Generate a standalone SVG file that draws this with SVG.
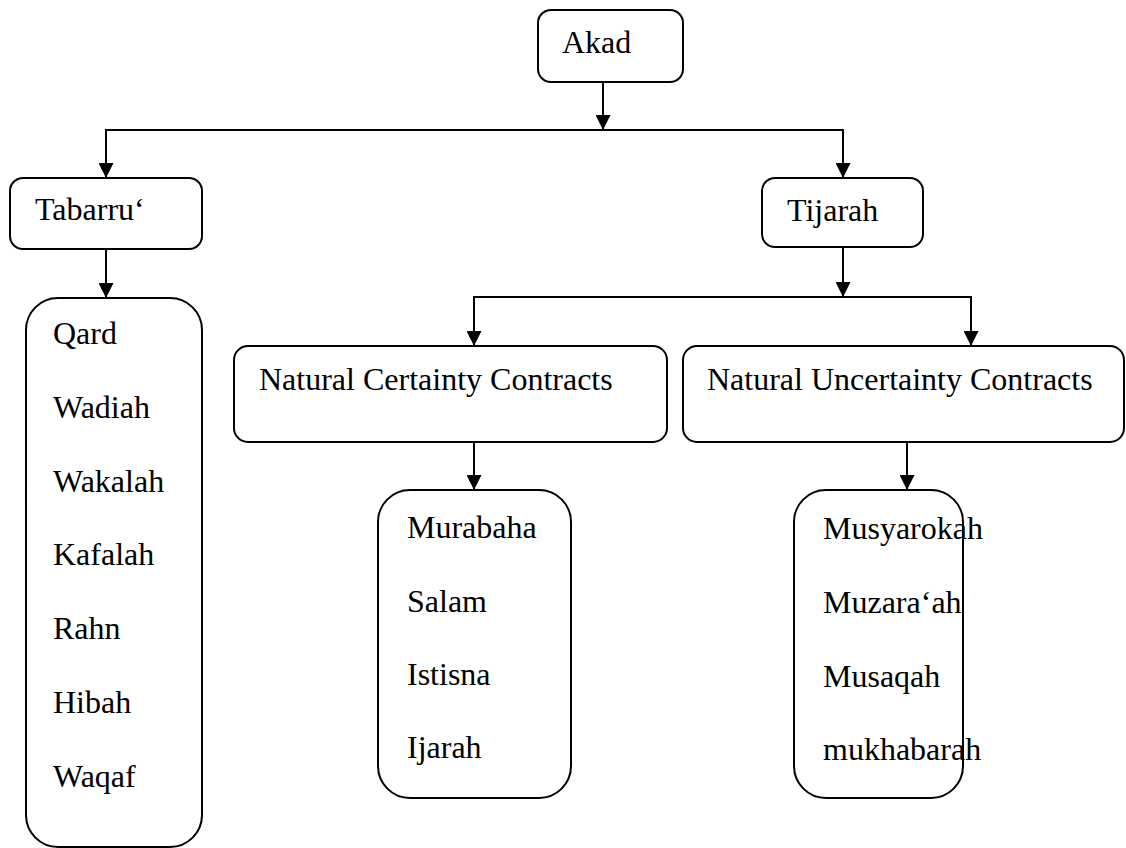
<svg xmlns="http://www.w3.org/2000/svg" width="1126" height="848" viewBox="0 0 1126 848">
<style>
.box{fill:#fff;stroke:#000;stroke-width:2}
.t{font-family:"Liberation Serif","Times New Roman",serif;font-size:32px;fill:#000}
.c{fill:none;stroke:#000;stroke-width:2}
</style>
<defs>
<marker id="ah" markerUnits="userSpaceOnUse" markerWidth="15" markerHeight="15" viewBox="0 0 15 15" refX="15" refY="7.5" orient="auto">
<path d="M0,0 L15,7.5 L0,15 z" fill="#000"/>
</marker>
</defs>
<rect width="1126" height="848" fill="#fff"/>
<g id="connectors">
<line class="c" x1="603" y1="82" x2="603" y2="130" marker-end="url(#ah)"/>
<polyline class="c" points="106,178 106,130 843,130 843,178"/>
<line class="c" x1="106" y1="131" x2="106" y2="178" marker-end="url(#ah)"/>
<line class="c" x1="843" y1="131" x2="843" y2="178" marker-end="url(#ah)"/>
<line class="c" x1="106" y1="249" x2="106" y2="298" marker-end="url(#ah)"/>
<line class="c" x1="843" y1="247" x2="843" y2="297" marker-end="url(#ah)"/>
<polyline class="c" points="474,346 474,297 971,297 971,346"/>
<line class="c" x1="474" y1="298" x2="474" y2="346" marker-end="url(#ah)"/>
<line class="c" x1="971" y1="298" x2="971" y2="346" marker-end="url(#ah)"/>
<line class="c" x1="474" y1="442" x2="474" y2="490" marker-end="url(#ah)"/>
<line class="c" x1="907" y1="442" x2="907" y2="490" marker-end="url(#ah)"/>
</g>
<g id="akad">
<rect class="box" x="538" y="10" width="145" height="72" rx="13"/>
<text class="t" x="562" y="53">Akad</text>
</g>
<g id="tabarru">
<rect class="box" x="10" y="178" width="192" height="71" rx="13"/>
<text class="t" x="35" y="220">Tabarru‘</text>
</g>
<g id="tijarah">
<rect class="box" x="762" y="178" width="161" height="69" rx="13"/>
<text class="t" x="787" y="221">Tijarah</text>
</g>
<g id="tabarru-list">
<rect class="box" x="26" y="298" width="176" height="549" rx="32"/>
<text class="t" x="53" y="344">Qard</text>
<text class="t" x="53" y="418">Wadiah</text>
<text class="t" x="53" y="492">Wakalah</text>
<text class="t" x="53" y="565">Kafalah</text>
<text class="t" x="53" y="639">Rahn</text>
<text class="t" x="53" y="713">Hibah</text>
<text class="t" x="53" y="787">Waqaf</text>
</g>
<g id="ncc">
<rect class="box" x="234" y="346" width="433" height="96" rx="14"/>
<text class="t" x="259" y="390">Natural Certainty Contracts</text>
</g>
<g id="nuc">
<rect class="box" x="683" y="346" width="441" height="96" rx="14"/>
<text class="t" x="707" y="390">Natural Uncertainty Contracts</text>
</g>
<g id="ncc-list">
<rect class="box" x="378" y="490" width="193" height="308" rx="32"/>
<text class="t" x="407" y="538">Murabaha</text>
<text class="t" x="407" y="612">Salam</text>
<text class="t" x="407" y="685">Istisna</text>
<text class="t" x="407" y="758">Ijarah</text>
</g>
<g id="nuc-list">
<rect class="box" x="794" y="490" width="169" height="308" rx="32"/>
<text class="t" x="823" y="539">Musyarokah</text>
<text class="t" x="823" y="613">Muzara‘ah</text>
<text class="t" x="823" y="687">Musaqah</text>
<text class="t" x="823" y="760">mukhabarah</text>
</g>
</svg>
